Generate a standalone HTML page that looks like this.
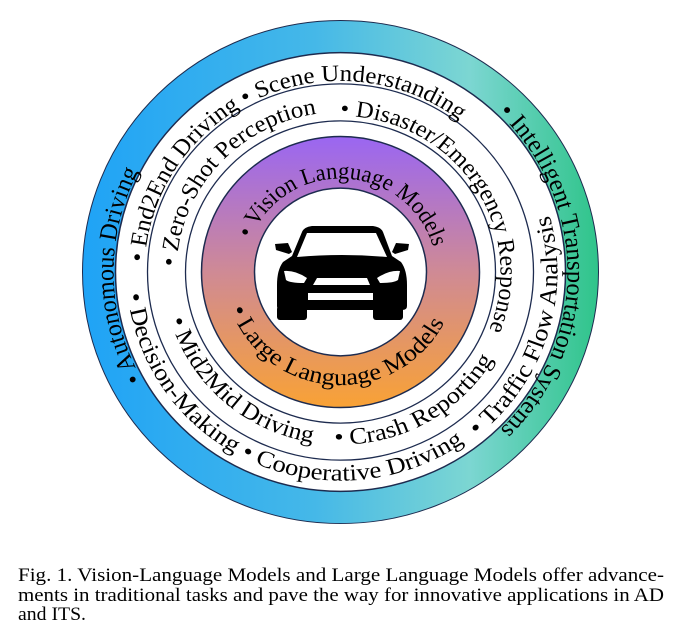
<!DOCTYPE html>
<html><head><meta charset="utf-8"><style>
html,body{margin:0;padding:0;background:#fff;}
svg{display:block;}
text{font-family:"Liberation Serif","Times New Roman",Times,serif;fill:#000;}
</style></head><body>
<svg width="688" height="644" viewBox="0 0 688 644" xmlns="http://www.w3.org/2000/svg" font-family="Liberation Serif, Times New Roman, serif">
<defs>
<linearGradient id="g1" gradientUnits="userSpaceOnUse" x1="-258" y1="0" x2="258" y2="0">
<stop offset="0" stop-color="#1fa3f6"/><stop offset="0.45" stop-color="#45b8e8"/><stop offset="0.75" stop-color="#7cd6d2"/><stop offset="1" stop-color="#2fc48a"/>
</linearGradient>
<linearGradient id="g2" gradientUnits="userSpaceOnUse" x1="0" y1="-139" x2="0" y2="139">
<stop offset="0" stop-color="#9a66f2"/><stop offset="0.5" stop-color="#cf8a95"/><stop offset="1" stop-color="#f9a235"/>
</linearGradient>
<path id="p1" d="M -198.5 110.1 A 227 227 0 0 1 -200.4 -106.6"/>
<path id="p2" d="M 157.7 -163.3 A 227 227 0 0 1 157.7 163.3"/>
<path id="p3" d="M -195.7 -10.3 A 196 196 0 0 1 123.3 -152.3"/>
<path id="p4" d="M -212.8 22.4 A 214 214 0 0 0 128.8 170.9"/>
<path id="p5" d="M 136.6 168.6 A 217 217 0 0 0 207.5 -63.4"/>
<path id="p6" d="M -163.9 -5.7 A 164 164 0 0 1 -20.0 -162.8"/>
<path id="p7" d="M 0 -160 A 160 160 0 0 1 146.2 65.1"/>
<path id="p8" d="M -170.1 48.8 A 177 177 0 0 0 -24.6 175.3"/>
<path id="p9" d="M -6.2 176.9 A 177 177 0 0 0 154.8 85.8"/>
<path id="p10" d="M -89.6 -34.4 A 96 96 0 0 1 93.5 -21.6"/>
<path id="p11" d="M -109.7 37.8 A 116 116 0 0 0 110.3 35.8"/>
</defs>
<g transform="translate(340.5,272) scale(1,0.975)">
<circle r="241.5" fill="none" stroke="url(#g1)" stroke-width="33"/>
<circle r="112.5" fill="none" stroke="url(#g2)" stroke-width="53"/>
<g fill="none" stroke="#1d2b4f">
<circle r="258" stroke-width="1"/>
<circle r="225" stroke-width="1.5"/>
<circle r="193" stroke-width="1.3"/>
<circle r="155" stroke-width="1.3"/>
<circle r="139" stroke-width="1.5"/>
<circle r="86" stroke-width="1.5"/>
</g>
<g font-size="25">
<text><textPath href="#p1" textLength="222" lengthAdjust="spacingAndGlyphs">• Autonomous Driving</textPath></text>
<text><textPath href="#p2" textLength="362" lengthAdjust="spacingAndGlyphs">• Intelligent Transportation Systems</textPath></text>
</g>
<g font-size="24">
<text><textPath href="#p3" textLength="425" lengthAdjust="spacingAndGlyphs">• End2End Driving • Scene Understanding</textPath></text>
<text><textPath href="#p4" textLength="445" lengthAdjust="spacingAndGlyphs">• Decision-Making • Cooperative Driving</textPath></text>
<text><textPath href="#p5" textLength="252" lengthAdjust="spacingAndGlyphs">• Traffic Flow Analysis</textPath></text>
<text><textPath href="#p6" textLength="228" lengthAdjust="spacingAndGlyphs">• Zero-Shot Perception</textPath></text>
<text><textPath href="#p7" textLength="312" lengthAdjust="spacingAndGlyphs">• Disaster/Emergency Response</textPath></text>
<text><textPath href="#p8" textLength="200" lengthAdjust="spacingAndGlyphs">• Mid2Mid Driving</textPath></text>
<text><textPath href="#p9" textLength="190" lengthAdjust="spacingAndGlyphs">• Crash Reporting</textPath></text>
</g>
<g font-size="24">
<text><textPath href="#p10" textLength="240" lengthAdjust="spacingAndGlyphs">• Vision Language Models</textPath></text>
<text><textPath href="#p11" textLength="272" lengthAdjust="spacingAndGlyphs">• Large Language Models</textPath></text>
</g>
</g>
<g>
<path d="M302 232 Q304 227 312 226 L373 226 Q381 227 383 232 L392 256 L401 262 Q407 270 407 285 L407 306 Q407 310 402 310 L283 310 Q277 310 277 306 L277 285 Q277 270 283 262 L292 256 Z" fill="#000"/>
<path d="M275 244 L288 243 L292 252 L289 254 L276 250 Z" fill="#000"/>
<path d="M409 244 L396 243 L392 252 L395 254 L408 250 Z" fill="#000"/>
<rect x="277" y="306" width="30" height="14" rx="3" fill="#000"/>
<rect x="373" y="306" width="30" height="14" rx="3" fill="#000"/>
<path d="M307 233 L376 233 L387 257 Q342 253 297 257 Z" fill="#fff"/>
<path d="M284 271 Q295 270 307 278 L304 283 Q290 283 286 280 Z" fill="#fff"/>
<path d="M400 271 Q389 270 377 278 L380 283 Q394 283 398 280 Z" fill="#fff"/>
<path d="M317 278 L367 278 L370 285 L313 285 Z" fill="#fff"/>
<rect x="308" y="293" width="65" height="7" fill="#fff"/>
</g>
<g font-size="19">
<text x="18" y="581" textLength="646" lengthAdjust="spacingAndGlyphs">Fig. 1.  Vision-Language Models and Large Language Models offer advance-</text>
<text x="18" y="601" textLength="646" lengthAdjust="spacingAndGlyphs">ments in traditional tasks and pave the way for innovative applications in AD</text>
<text x="18" y="620" textLength="68" lengthAdjust="spacingAndGlyphs">and ITS.</text>
</g>
</svg>
</body></html>
